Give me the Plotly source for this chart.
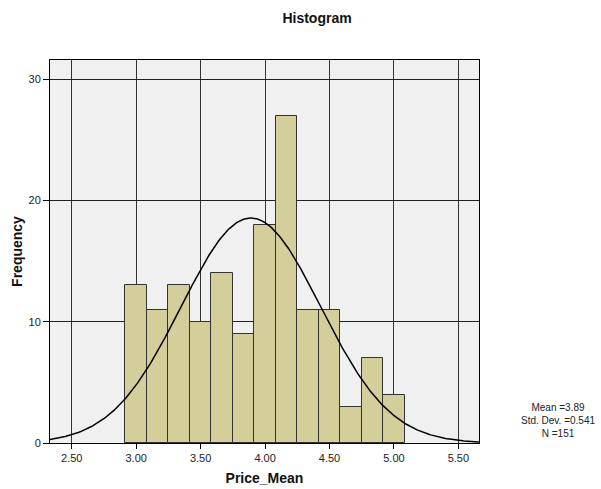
import numpy as np
import plotly.graph_objects as go

# Data
bin_centers = [3.0, 3.1667, 3.3333, 3.5, 3.6667, 3.8333, 4.0, 4.1667, 4.3333, 4.5, 4.6667, 4.8333, 5.0]
counts = [13, 11, 13, 10, 14, 9, 18, 27, 11, 11, 3, 7, 4]
bin_width = 1 / 6
mean_val = 3.89
std_val = 0.541
n_val = 151
x_ticks = [2.5, 3.0, 3.5, 4.0, 4.5, 5.0, 5.5]
x_tick_labels = ["2.50", "3.00", "3.50", "4.00", "4.50", "5.00", "5.50"]
y_ticks = [0, 10, 20, 30]

xr = [2.331, 5.66]
xs = np.linspace(xr[0], xr[1], 400)
ys = n_val * bin_width / (std_val * np.sqrt(2 * np.pi)) * np.exp(-0.5 * ((xs - mean_val) / std_val) ** 2)

fig = go.Figure()
fig.add_trace(go.Bar(
    x=bin_centers, y=counts, width=bin_width,
    marker=dict(color="#d3ce9a", line=dict(color="#333333", width=1)),
    hoverinfo="x+y", showlegend=False,
))
fig.add_trace(go.Scatter(
    x=xs, y=ys, mode="lines", line=dict(color="black", width=1.5),
    showlegend=False, hoverinfo="skip",
))

font_fam = "Liberation Sans, Arial, sans-serif"
fig.update_layout(
    width=601, height=489,
    margin=dict(l=50, r=122, t=60, b=46),
    paper_bgcolor="white", plot_bgcolor="#f0f0f0",
    font=dict(family=font_fam, size=11, color="#222"),
    title=dict(text="<b>Histogram</b>", x=317 / 601, xanchor="center",
               y=1 - 18 / 489, yanchor="middle", font=dict(size=14, color="#111")),
    bargap=0,
)
fig.update_xaxes(
    range=xr, tickvals=x_ticks, ticktext=x_tick_labels,
    showgrid=True, gridcolor="#333", gridwidth=1,
    showline=True, linecolor="black", linewidth=1, mirror=True,
    ticks="outside", ticklen=5, tickcolor="black",
    zeroline=False, automargin=False,
    title=dict(text="<b>Price_Mean</b>", font=dict(size=14, color="#111"), standoff=9),
)
fig.update_yaxes(
    range=[0, 31.6], tickvals=y_ticks,
    showgrid=True, gridcolor="#222", gridwidth=1,
    showline=True, linecolor="black", linewidth=1, mirror=True,
    ticks="outside", ticklen=6, tickcolor="black",
    zeroline=False, automargin=False,
    title=dict(text="<b>Frequency</b>", font=dict(size=14, color="#111"), standoff=2),
)
fig.add_annotation(
    text=f"Mean ={mean_val:.2f}<br>Std. Dev. ={std_val:.3f}<br>N ={n_val}",
    xref="paper", yref="paper", x=(558 - 50) / (479 - 50), y=(443 - 420) / (443 - 60),
    xanchor="center", yanchor="middle", showarrow=False, align="center",
    font=dict(size=10, color="#222"),
)
fig.write_html("out.html")
